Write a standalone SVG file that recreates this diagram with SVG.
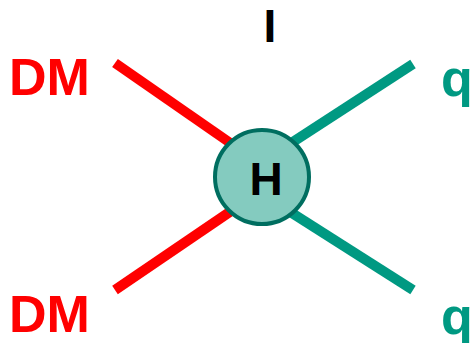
<svg xmlns="http://www.w3.org/2000/svg" width="470" height="343" viewBox="0 0 470 343">
<style>
.lbl{font-family:"Liberation Sans",Arial,sans-serif;font-weight:bold}
.dm{fill:#FF0000;font-size:52px}
.q{fill:#009982;font-size:52px}
.red{stroke:#FF0000;stroke-width:10;fill:none}
.teal{stroke:#009982;stroke-width:10;fill:none}
</style>
<rect width="470" height="343" fill="#ffffff"/>
<g id="connectors">
<line class="red" x1="115" y1="63" x2="262" y2="165"/>
<line class="red" x1="115" y1="290" x2="262" y2="190"/>
<line class="teal" x1="413" y1="64" x2="262" y2="162"/>
<line class="teal" x1="413" y1="290" x2="262" y2="194"/>
</g>
<g id="H">
<circle cx="262" cy="177" r="47" fill="#84CBBF" stroke="#006E60" stroke-width="4"/>
<text class="lbl" x="266" y="195" font-size="46" text-anchor="middle" fill="#000">H</text>
</g>
<g id="I"><text class="lbl" x="270" y="42" font-size="46" text-anchor="middle" fill="#000">I</text></g>
<g id="DM1"><text class="lbl dm" x="9" y="95">DM</text></g>
<g id="DM2"><text class="lbl dm" x="9" y="332">DM</text></g>
<g id="q1"><text class="lbl q" x="441" y="96">q</text></g>
<g id="q2"><text class="lbl q" x="441" y="334">q</text></g>
</svg>
